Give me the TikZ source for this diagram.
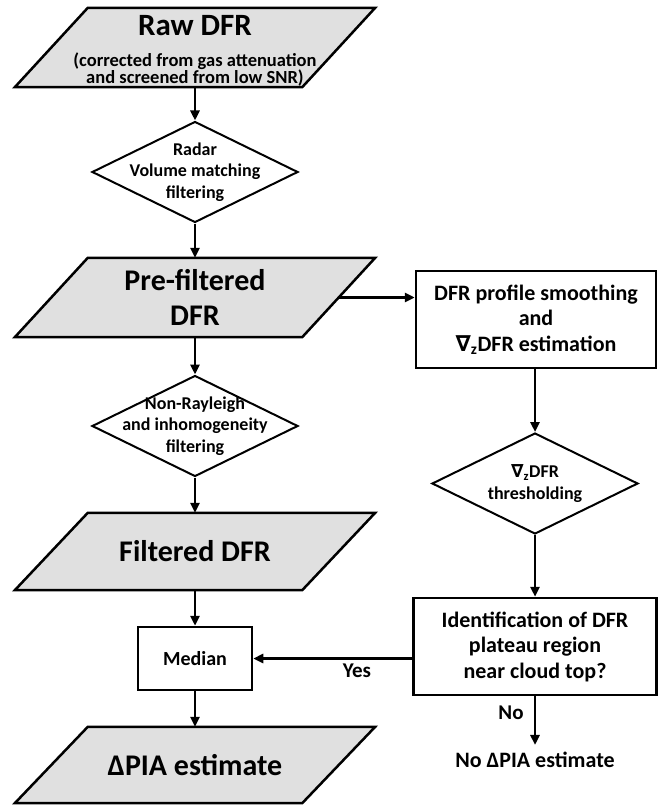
\documentclass[tikz,border=0pt]{standalone}
\usepackage{fontspec}
\setmainfont{Carlito}
\newfontfamily\nablafont{DejaVu Sans}
\usetikzlibrary{shapes.geometric, arrows.meta, backgrounds}
\definecolor{datagray}{RGB}{224,224,224}
\newcommand{\gradz}{{\nablafont ∇}\textsubscript{z}}
\newcommand{\subnote}{\fontsize{18.5}{17}\selectfont}

\tikzset{
	data/.style={rectangle, minimum width=287pt, minimum height=79pt, inner sep=0pt, align=center,
		font=\bfseries\fontsize{30}{35}\selectfont},
	datashape/.style={draw, line width=2.5pt, fill=datagray, line join=miter},
	decision/.style={diamond, draw, line width=2pt, aspect=2, minimum width=206pt, minimum height=101pt,
		inner sep=-14pt, align=center, font=\bfseries\fontsize{18}{21.5}\selectfont},
	process/.style={rectangle, draw, line width=2.5pt, align=center,
		font=\bfseries\fontsize{22}{25.5}\selectfont},
	flow/.style={line width=2.5pt, -{Triangle[length=10pt,width=9pt]}},
	tag/.style={font=\bfseries\fontsize{21}{24}\selectfont, inner sep=0pt},
}

\begin{document}
\begin{tikzpicture}[x=1pt, y=-1pt]
	\useasboundingbox (0,0) rectangle (659,805);
	% left column
	\node[data, font=\bfseries\fontsize{31}{35}\selectfont] (raw) at (195,47.5) {\rule{0pt}{27pt}Raw DFR\\[-4pt] \subnote (corrected from gas attenuation\\[-18pt] \subnote and screened from low SNR)};
	\node[decision] (vol) at (195,172) {Radar\\Volume matching\\filtering};
	\node[data] (pre) at (195,297.5) {Pre-filtered\\DFR};
	\node[decision] (nonray) at (195,426) {Non-Rayleigh\\and inhomogeneity\\filtering};
	\node[data, minimum height=77pt] (filt) at (195,551.5) {Filtered DFR};
	\node[process, minimum width=114pt, minimum height=63pt, font=\bfseries\fontsize{20}{24}\selectfont] (median) at (195,658.5) {Median};
	\node[data, minimum height=76pt] (dpia) at (195,765) {ΔPIA estimate};
	% parallelogram outlines behind the data nodes
	\begin{scope}[on background layer]
		\foreach \n in {raw,pre,filt,dpia}
			\draw[datashape] ([xshift=-36.5pt]\n.south west) -- ([xshift=36.5pt]\n.north west)
				-- ([xshift=36.5pt]\n.north east) -- ([xshift=-36.5pt]\n.south east) -- cycle;
	\end{scope}
	% right column
	\node[process, minimum width=240pt, minimum height=97pt] (smooth) at (536,319.5) {DFR profile smoothing\\and\\\gradz DFR estimation};
	\node[decision] (thresh) at (535,483.5) {\gradz DFR\\thresholding};
	\node[process, minimum width=243pt, minimum height=97pt] (ident) at (535,646.5) {Identification of DFR\\plateau region\\near cloud top?};
	\node[tag, font=\bfseries\fontsize{22}{24}\selectfont, inner ysep=7pt] (noest) at (535,760) {No ΔPIA estimate};
	\node[tag] (yes) at (357,671) {Yes};
	\node[tag] (no) at (511,713) {No};

	\draw[flow] (raw.south) -- (vol.north);
	\draw[flow] (vol.south) -- (pre.north);
	\draw[flow] (pre.south) -- (nonray.north);
	\draw[flow] (nonray.south) -- (filt.north);
	\draw[flow] (filt.south) -- (median.north);
	\draw[flow] (median.south) -- (dpia.north);
	\draw[flow] (pre.east) -- (pre.east -| smooth.west);
	\draw[flow] (smooth.south -| thresh.north) -- (thresh.north);
	\draw[flow] (thresh.south) -- (ident.north);
	\draw[flow] (median.east -| ident.west) -- (median.east);
	\draw[flow] (ident.south) -- (noest.north);
\end{tikzpicture}
\end{document}
